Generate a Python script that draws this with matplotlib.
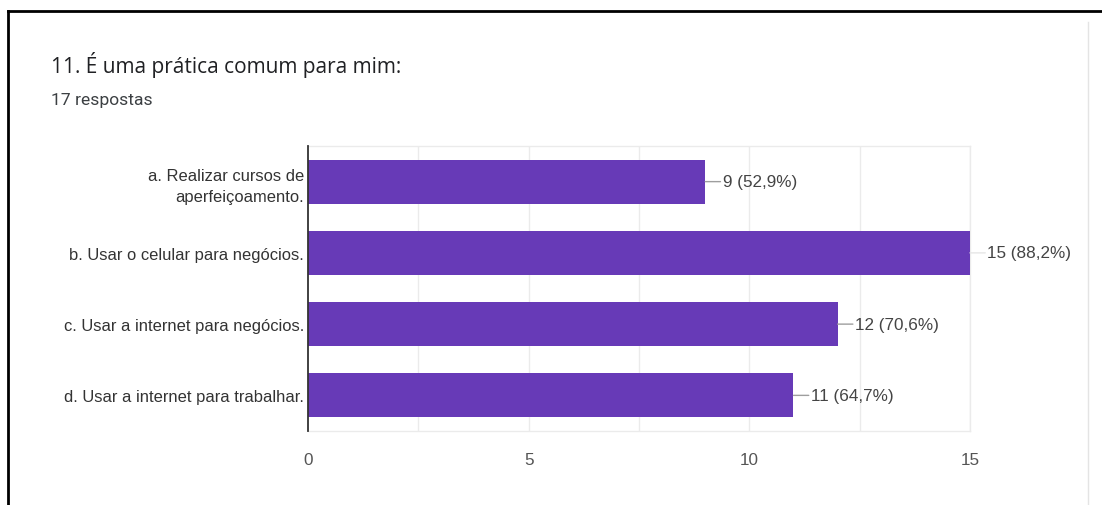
import matplotlib
matplotlib.use("Agg")
import matplotlib.pyplot as plt
from matplotlib.lines import Line2D

# survey answers, top to bottom
categories = [
    "a. Realizar cursos de\naperfeiçoamento.",
    "b. Usar o celular para negócios.",
    "c. Usar a internet para negócios.",
    "d. Usar a internet para trabalhar.",
]
counts = [9, 15, 12, 11]
percents = ["52,9%", "88,2%", "70,6%", "64,7%"]
x_ticks = [0, 5, 10, 15]
title = "11. É uma prática comum para mim:"
subtitle = "17 respostas"

PURPLE = "#673ab7"
TEXT = "#333333"
GRID = "#ebebeb"

W, H = 1102, 506
fig = plt.figure(figsize=(W / 100, H / 100), dpi=100)
fig.patch.set_facecolor("white")


def px(x, y):
    """pixel coords (from top-left) -> figure fraction"""
    return x / W, 1 - y / H


# card border: thick black top + left, faint grey divider on the right
fig.add_artist(Line2D([8 / W, 1], [1 - 12 / H] * 2, color="black", lw=2,
                      transform=fig.transFigure))
fig.add_artist(Line2D([8 / W] * 2, [0, 1 - 12 / H], color="black", lw=2,
                      transform=fig.transFigure))
fig.add_artist(Line2D([1088 / W] * 2, [0, 1 - 23 / H], color="#e4e4e4", lw=1,
                      transform=fig.transFigure))

fig.text(*px(51, 65), title, fontsize=15.0, family="Open Sans", color="#202124",
         va="center", ha="left")
fig.text(*px(51, 101), subtitle, fontsize=12.6, family="Roboto", color="#3c4043",
         va="center", ha="left")

left, right, top, bottom = 308, 970, 147, 432
ax = fig.add_axes([left / W, 1 - bottom / H, (right - left) / W, (bottom - top) / H])

ypos = list(range(len(categories)))
ax.barh(ypos, counts, height=0.62, color=PURPLE, zorder=3)
ax.set_ylim(len(categories) - 0.5, -0.5)
ax.set_xlim(0, 15)

ax.set_yticks(ypos)
ax.set_yticklabels(categories, fontsize=11.9, family="Liberation Sans", color=TEXT,
                   linespacing=1.45)
ax.set_xticks(x_ticks)
ax.set_xticklabels([str(t) for t in x_ticks], fontsize=12.3, family="Liberation Sans",
                   color="#555555")
ax.tick_params(axis="y", length=0, pad=3)
ax.tick_params(axis="x", length=0, pad=15)

# light grid every 2.5
for gx in [2.5, 5, 7.5, 10, 12.5, 15]:
    ax.axvline(gx, color=GRID, lw=1, zorder=1)

for side in ["top", "bottom", "right"]:
    ax.spines[side].set_color(GRID)
    ax.spines[side].set_linewidth(1)
ax.spines["left"].set_color("#333333")
ax.spines["left"].set_linewidth(1.3)
ax.spines["left"].set_zorder(4)

# value labels with short leader lines
for y, c, p in zip(ypos, counts, percents):
    lead = "#e6e6e6" if c == max(counts) else "#9e9e9e"
    ax.annotate("", xy=(c, y), xytext=(11, 0), textcoords="offset points",
                arrowprops=dict(arrowstyle="-", color=lead, lw=1,
                                shrinkA=0, shrinkB=0),
                annotation_clip=False)
    ax.annotate(f"{c} ({p})", xy=(c, y), xytext=(12.5, 0), textcoords="offset points",
                fontsize=12.3, family="Liberation Sans", color="#444444",
                va="center", ha="left", annotation_clip=False)

fig.savefig("out.png", dpi=100)
